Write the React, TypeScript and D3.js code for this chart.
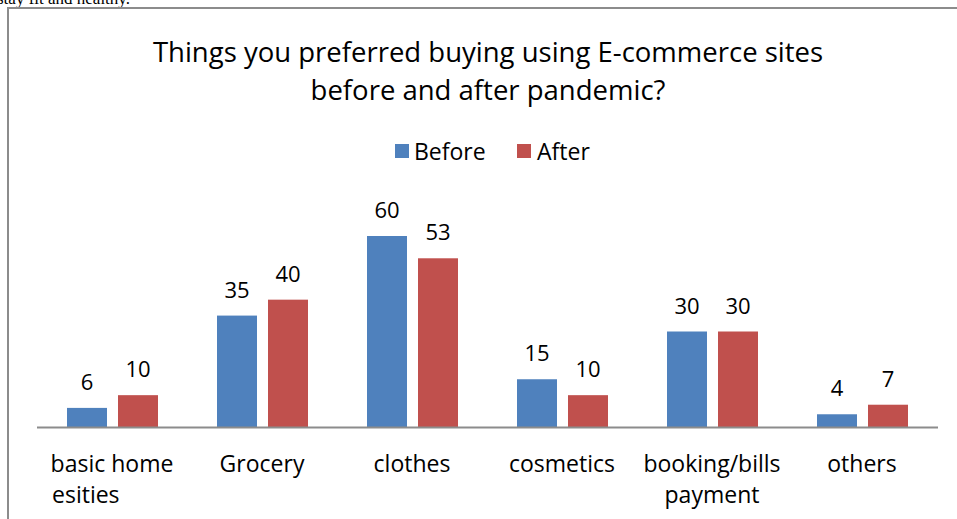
import * as d3 from 'd3';

const categories = ['basic home', 'Grocery', 'clothes', 'cosmetics', 'booking/bills', 'others'];
const categoryLine2 = ['esities', '', '', '', 'payment', ''];
const seriesNames = ['Before', 'After'];
const beforeValues = [6, 35, 60, 15, 30, 4];
const afterValues = [10, 40, 53, 10, 30, 7];
const colors = ['#4F81BD', '#C0504D'];

const W = 957;
const H = 519;
const FONT = '"Open Sans", "Noto Sans", sans-serif';

export default function App() {
  const x0 = d3.scaleBand<string>().domain(categories).range([37, 937]).padding(0);
  const x1 = d3.scaleBand<string>().domain(seriesNames).range([30, 121]).paddingInner(0.2157);
  const y = d3.scaleLinear().domain([0, 60]).range([427, 236]);

  const rows = categories.map((c, i) => ({ c, vals: [beforeValues[i], afterValues[i]] }));

  return (
    <div style={{ position: 'fixed', left: 0, top: 0 }}>
      <svg width={W} height={H} style={{ display: 'block', background: '#fff' }}>
        <text x={-3} y={4} fontFamily='"Liberation Serif", serif' fontSize={17} fill='#000'>
          stay fit and healthy.
        </text>
        <path d={`M${W + 5},8 H8 V${H + 5}`} fill='none' stroke='#8c8c8c' strokeWidth={2} />

        <text textAnchor='middle' fontFamily={FONT} fontSize={27.5} fill='#000'>
          <tspan x={488} y={62}>Things you preferred buying using E-commerce sites</tspan>
          <tspan x={488} y={100}>before and after pandemic?</tspan>
        </text>

        {/* legend */}
        <g fontFamily={FONT} fontSize={23} fill='#000'>
          <rect x={395} y={144} width={14} height={14} fill={colors[0]} />
          <text x={414} y={160}>{seriesNames[0]}</text>
          <rect x={517} y={144} width={14} height={14} fill={colors[1]} />
          <text x={537} y={160}>{seriesNames[1]}</text>
        </g>

        {rows.map((r) => (
          <g key={r.c} transform={`translate(${x0(r.c)},0)`}>
            {r.vals.map((v, j) => {
              const bx = x1(seriesNames[j])!;
              return (
                <g key={j}>
                  <rect x={bx} y={y(v)} width={x1.bandwidth()} height={y(0) - y(v)} fill={colors[j]} />
                  <text
                    x={bx + x1.bandwidth() / 2}
                    y={y(v) - 18}
                    textAnchor='middle'
                    fontFamily={FONT}
                    fontSize={22}
                    fill='#000'
                  >
                    {v}
                  </text>
                </g>
              );
            })}
          </g>
        ))}

        <line x1={37} x2={938} y1={427.5} y2={427.5} stroke='#8c8c8c' strokeWidth={2} />

        {categories.map((c, i) => {
          const cx = x0(c)! + x0.bandwidth() / 2;
          return (
            <g key={c} fontFamily={FONT} fontSize={23} fill='#000'>
              <text x={cx} y={472} textAnchor='middle'>{c}</text>
              {categoryLine2[i] && i === 0 ? (
                <text x={52} y={503}>{categoryLine2[i]}</text>
              ) : categoryLine2[i] ? (
                <text x={cx} y={503} textAnchor='middle'>{categoryLine2[i]}</text>
              ) : null}
            </g>
          );
        })}
      </svg>
    </div>
  );
}
